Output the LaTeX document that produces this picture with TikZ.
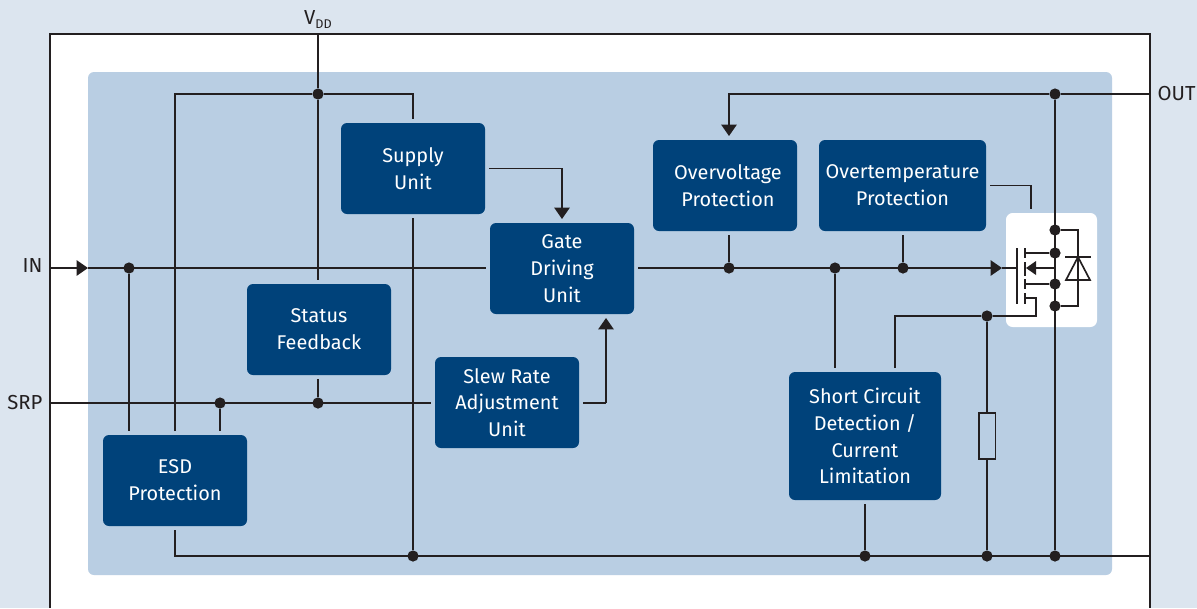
\documentclass[tikz,border=0pt]{standalone}
\usepackage{fontspec}
\setmainfont{Fira Sans}
\usetikzlibrary{positioning,arrows.meta}
\definecolor{pagebg}{HTML}{DCE5EF}
\definecolor{panelbg}{HTML}{B9CEE3}
\definecolor{unitbg}{HTML}{00427A}
\definecolor{wirecol}{HTML}{231F20}

\begin{document}
\begin{tikzpicture}[
        x=0.75pt, y=-0.75pt,
        unit/.style={rectangle, rounded corners=4.5pt, fill=unitbg, text=white, align=center, minimum width=108pt, minimum height=68.25pt, inner sep=0pt, outer sep=3pt, font=\fontsize{14.9}{20.1}\selectfont},
        wire/.style={draw=wirecol, line width=1.1pt},
        tip/.style={wire, -{Triangle[length=8.5pt,width=11.5pt]}},
        dot/.style={circle, fill=wirecol, inner sep=0pt, minimum size=8.4pt},
        pin/.style={text=wirecol, inner sep=0pt, font=\fontsize{15.2}{18}\selectfont},
        symb/.style={draw=wirecol, line width=1.25pt},
        node distance=5.5pt
    ]
    % backgrounds
    \fill[pagebg] (0,0) rectangle (1197,608);
    \useasboundingbox (0,0) rectangle (1197,608);
    \fill[white] (50,34) rectangle (1150,608);
    \draw[wire] (50,608) -- (50,34) -- (1150,34) -- (1150,608);
    \fill[panelbg, rounded corners=4.5pt] (88,72) rectangle (1112,575);
    \fill[white, rounded corners=5pt] (1006,213) rectangle (1097,327);

    % units
    \node[unit]                     (sup) at (413,168.5) {Supply\\Unit};
    \node[unit]                     (gdu) at (562,268.5) {Gate\\Driving\\Unit};
    \node[unit]                     (ovp) at (725,185.5) {\hspace*{4.5pt}Overvoltage\\\hspace*{4.5pt}Protection};
    \node[unit, minimum width=125.25pt] (otp) at (902.5,185.5) {Overtemperature\\Protection};
    \node[unit]                     (sta) at (319,329.5) {Status\\Feedback};
    \node[unit]                     (sra) at (507,402.5) {Slew Rate\\Adjustment\\Unit};
    \node[unit]                     (esd) at (175,480.5) {ESD\\Protection};
    \node[unit, minimum width=114pt, minimum height=96pt] (scd) at (865,436) {Short Circuit\\Detection /\\Current\\Limitation};
    \node[draw=wirecol, line width=1.25pt, fill=panelbg, minimum width=12.5pt, minimum height=34.5pt, inner sep=0pt] (res) at (987,436) {};

    % pins
    \coordinate (vdd) at (318,34);
    \coordinate (in)  at (50,268);
    \coordinate (srp) at (50,403);
    \coordinate (out) at (1150,94);
    \coordinate (gnd) at (1150,556);
    \node[pin, above=4pt of vdd] (vddl) {V\raisebox{-0.35ex}{\fontsize{9.5}{10}\selectfont DD}};
    \node[pin, left=of in, yshift=1.5pt]  (inl)  {IN};
    \node[pin, left=of srp, yshift=0.7pt] (srpl) {SRP};
    \node[pin, right=of out] (outl) {OUT};

    % junctions
    \node[dot] (dvdd) at (318,94) {};
    \node[dot] (dout) at (1055,94) {};
    \node[dot] (dinn) at (129,268) {};
    \node[dot] (dovp) at (729,268) {};
    \node[dot] (dscd) at (835,268) {};
    \node[dot] (dotp) at (903,268) {};
    \node[dot] (desd) at (220,403) {};
    \node[dot] (dsta) at (318,403) {};
    \node[dot] (dsen) at (987,316) {};
    \node[dot] (gsup) at (413,556) {};
    \node[dot] (gscd) at (865,556) {};
    \node[dot] (gres) at (987,556) {};
    \node[dot] (gout) at (1055,556) {};
    \node[dot] (qdia) at (1055,230) {};
    \node[dot] (qdrn) at (1055,253) {};
    \node[dot] (qsrc) at (1055,284) {};
    \node[dot] (qano) at (1055,306) {};

    % supply side
    \draw[wire] (vdd) -- (dvdd);
    \draw[wire] (dvdd) -- (sta.north -| dvdd);
    \draw[wire] (esd.north) |- (dvdd);
    \draw[wire] (dvdd) -| (sup.north);
    \draw[tip]  (sup.east) -| (gdu.north);
    \draw[wire] (sup.south) -- (gsup);

    % signal lines
    \coordinate (inarr) at (88,268);
    \draw[tip]  (in) -- (inarr);
    \draw[wire] (inarr) -- (gdu.west |- inarr);
    \draw[wire] (dinn) -- (esd.north -| dinn);
    \draw[wire] (srp) -- (srp -| sra.west);
    \draw[wire] (desd) -- (esd.north -| desd);
    \draw[wire] (dsta) -- (sta.south -| dsta);
    \coordinate (sraout) at (606,403);
    \draw[wire] (srp -| sra.east) -- (sraout);
    \draw[tip]  (sraout) -- (sraout |- gdu.south);

    % output side
    \coordinate (garr) at (1002,268);
    \coordinate (qgat) at (1017,268);
    \draw[tip]  (gdu.east |- garr) -- (garr);
    \draw[wire] (garr) -- (qgat);
    \draw[wire] (dovp) -- (ovp.south -| dovp);
    \draw[wire] (dotp) -- (otp.south -| dotp);
    \draw[wire] (dscd) -- (scd.north -| dscd);
    \draw[tip]  (out) -- (dout) -- (729,94) -- (ovp.north -| 729,94);
    \draw[wire] (otp.east) -- (1031,185.5) -- (1031,209);
    \draw[wire] (dout) -- (gout);
    \draw[wire] (esd.south) |- (gnd);
    \draw[wire] (scd.south) -- (gscd);
    \draw[wire] (dsen) -- (res);
    \draw[wire] (res) -- (gres);
    \draw[wire] (scd.north -| 895,0) |- (dsen);

    % transistor
    \draw[wire] (dsen) -- (1036,316) -- (1036,298) -- (1025,298);
    \draw[symb] (1017,248) -- (1017,304);
    \draw[symb] (1025,248) -- (1025,258);
    \draw[symb] (1025,262) -- (1025,276);
    \draw[symb] (1025,279) -- (1025,289);
    \draw[symb] (1025,293) -- (1025,304);
    \draw[wire] (1025,253) -- (qdrn);
    \draw[wire] (1025,284) -- (qsrc);
    \draw[wire] (qsrc) -- (1055,268) -- (1036,268);
    \fill[wirecol] (1026,268) -- (1036,261) -- (1036,275) -- cycle;

    % diode
    \draw[wire] (qdia) -- (1078,230) -- (1078,306) -- (qano);
    \draw[symb] (1065,257) -- (1091,257);
    \draw[symb] (1078,257) -- (1090,280) -- (1066,280) -- cycle;
\end{tikzpicture}
\end{document}
